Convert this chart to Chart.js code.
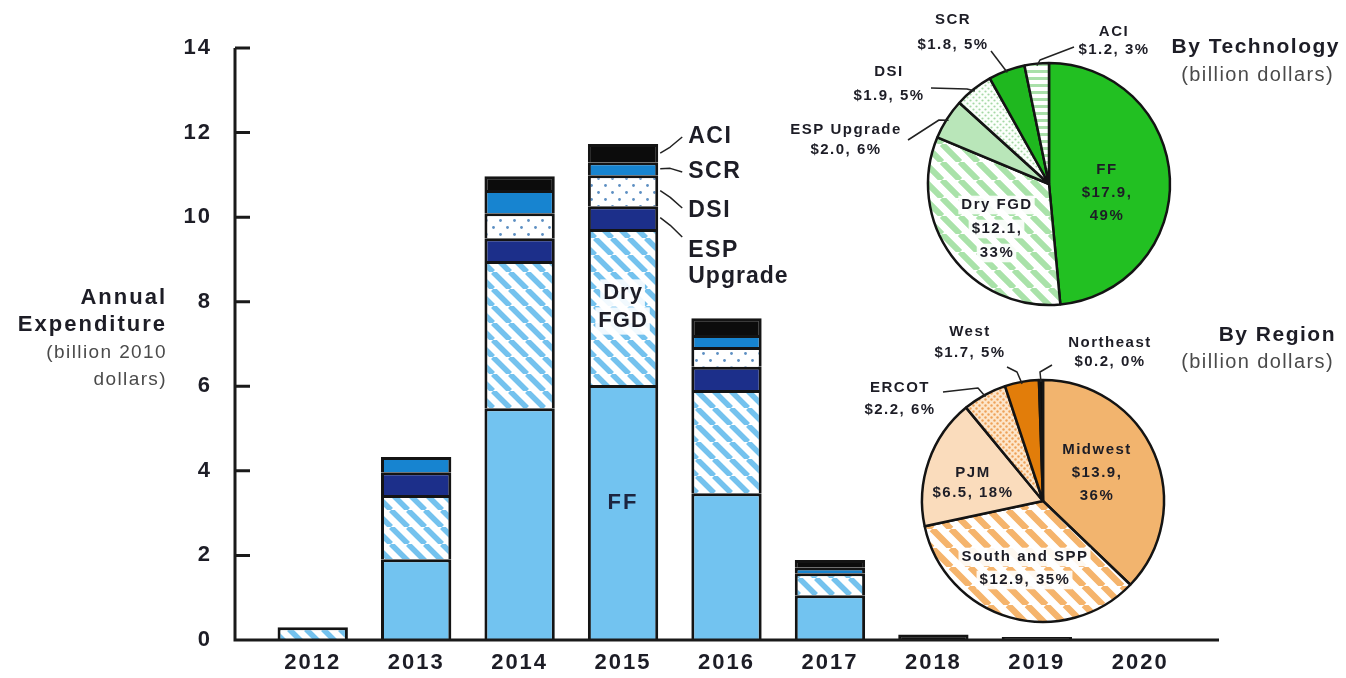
<!DOCTYPE html>
<html>
<head>
<meta charset="utf-8">
<script src="https://cdn.jsdelivr.net/npm/chart.js@4.4.0/dist/chart.umd.min.js"></script>
<style>
  html, body { margin: 0; padding: 0; background: #fff; }
  #wrap { position: relative; width: 1346px; height: 678px; }
  canvas { position: absolute; }
  #bars { left: 0; top: 0; }
  #techPie { left: 780px; top: 0; pointer-events: none; }
  #regionPie { left: 780px; top: 320px; pointer-events: none; }
</style>
</head>
<body>
<div id="wrap">
  <canvas id="bars" width="1346" height="678"></canvas>
  <canvas id="techPie" width="566" height="320"></canvas>
  <canvas id="regionPie" width="566" height="320"></canvas>
</div>
<script>
// annual spending by control technology, billion 2010 dollars
const years = ['2012', '2013', '2014', '2015', '2016', '2017', '2018', '2019', '2020'];
const ffSpend     = [null, 1.91, 5.48, 6.03, 3.47, 1.06, null, null, null];
const dryFgdSpend = [0.30, 1.52, 3.48, 3.69, 2.44, 0.52, null, null, null];
const espSpend    = [null, 0.54, 0.54, 0.54, 0.55, null, null, null, null];
const dsiSpend    = [null, null, 0.59, 0.73, 0.47, null, null, null, null];
const scrSpend    = [null, 0.36, 0.55, 0.31, 0.28, 0.13, null, null, null];
const aciSpend    = [null, null, 0.33, 0.43, 0.40, 0.18, 0.13, 0.07, null];
const yTicks = [0, 2, 4, 6, 8, 10, 12, 14];

// cumulative totals
const techLabels = ['FF', 'Dry FGD', 'ESP Upgrade', 'DSI', 'SCR', 'ACI'];
const techValues = [17.9, 12.1, 2.0, 1.9, 1.8, 1.2];
const techShares = [49, 33, 6, 5, 5, 3];
const regionLabels = ['Midwest', 'South and SPP', 'PJM', 'ERCOT', 'West', 'Northeast'];
const regionValues = [13.9, 12.9, 6.5, 2.2, 1.7, 0.2];
const regionShares = [36, 35, 18, 6, 5, 0];

const FONT = '"Liberation Sans", Arial, Helvetica, sans-serif';
const INK = '#1d1d26';

// ---- fill patterns ----
function makeTile(w, h, bg, draw) {
  const c = document.createElement('canvas');
  c.width = w; c.height = h;
  const g = c.getContext('2d');
  g.fillStyle = bg;
  g.fillRect(0, 0, w, h);
  draw(g);
  return g.createPattern(c, 'repeat');
}
function stripes(color, bg, size, width) {
  return makeTile(size, size, bg, g => {
    g.strokeStyle = color;
    g.lineWidth = width;
    g.beginPath();
    for (let k = -1; k <= 1; k++) {
      g.moveTo(k * size, 0);
      g.lineTo(k * size + size, size);
    }
    g.stroke();
  });
}
function dots(color, bg, size, r) {
  return makeTile(size, size, bg, g => {
    g.fillStyle = color;
    [[size / 4, size / 4], [size * 3 / 4, size * 3 / 4]].forEach(([px, py]) => {
      g.beginPath();
      g.arc(px, py, r, 0, Math.PI * 2);
      g.fill();
    });
  });
}
function hlines(color, bg, size, width) {
  return makeTile(8, size, bg, g => {
    g.fillStyle = color;
    g.fillRect(0, 0, 8, width);
  });
}

// ---- text helpers ----
function putText(ctx, str, x, y, opt) {
  ctx.save();
  ctx.font = `${opt.weight || 'bold'} ${opt.size}px ${FONT}`;
  ctx.letterSpacing = (opt.spacing ?? 1.5) + 'px';
  ctx.textAlign = opt.align || 'center';
  ctx.textBaseline = 'middle';
  if (opt.halo) {
    const w = ctx.measureText(str).width;
    const left = opt.align === 'left' ? x : opt.align === 'right' ? x - w : x - w / 2;
    ctx.fillStyle = 'rgba(255,255,255,0.9)';
    ctx.fillRect(left - 3, y - opt.size * 0.62, w + 5, opt.size * 1.24);
  }
  ctx.fillStyle = opt.color || INK;
  ctx.fillText(str, x, y);
  ctx.restore();
}
function leader(ctx, pts) {
  ctx.save();
  ctx.strokeStyle = '#222';
  ctx.lineWidth = 1.5;
  ctx.lineJoin = 'round';
  ctx.beginPath();
  ctx.moveTo(pts[0][0], pts[0][1]);
  for (let i = 1; i < pts.length; i++) ctx.lineTo(pts[i][0], pts[i][1]);
  ctx.stroke();
  ctx.restore();
}

// ---- stacked bars ----
const barDecor = {
  id: 'barDecor',
  beforeDraw(chart) { chart.ctx.letterSpacing = '2px'; },
  afterDatasetsDraw(chart) {
    const { ctx, chartArea, scales: { y } } = chart;
    const axisX = chartArea.left - 26;
    const y0 = y.getPixelForValue(0);

    ctx.save();
    ctx.strokeStyle = '#1a1a1a';
    ctx.lineWidth = 3;
    ctx.beginPath();
    ctx.moveTo(axisX, y.getPixelForValue(yTicks[yTicks.length - 1]));
    ctx.lineTo(axisX, y0);
    ctx.lineTo(chartArea.right + 27, y0);
    yTicks.forEach(v => {
      const py = y.getPixelForValue(v);
      ctx.moveTo(axisX, py);
      ctx.lineTo(axisX + 15, py);
    });
    ctx.stroke();
    ctx.restore();

    // y axis title
    putText(ctx, 'Annual', 167, 298, { size: 22, align: 'right', spacing: 2 });
    putText(ctx, 'Expenditure', 167, 325, { size: 22, align: 'right', spacing: 2 });
    putText(ctx, '(billion 2010', 167, 353, { size: 19, weight: 'normal', align: 'right', color: '#4a4a4a', spacing: 1.4 });
    putText(ctx, 'dollars)', 167, 380, { size: 19, weight: 'normal', align: 'right', color: '#4a4a4a', spacing: 1.4 });

    // segment names on the 2015 bar
    const col = years.indexOf('2015');
    const seg = i => chart.getDatasetMeta(i).data[col];
    const mid = i => (seg(i).y + seg(i).base) / 2;
    const right = seg(0).x + seg(0).width / 2;
    putText(ctx, 'FF', seg(0).x, mid(0) - 10, { size: 22, spacing: 2, color: '#1c2540' });
    putText(ctx, 'Dry', seg(1).x, mid(1) - 14, { size: 22, spacing: 1, halo: true });
    putText(ctx, 'FGD', seg(1).x, mid(1) + 14, { size: 22, spacing: 1, halo: true });

    const side = [[5, 'ACI', 137, 137], [4, 'SCR', 172, 172], [3, 'DSI', 208, 211], [2, 'ESP', 237, 251]];
    side.forEach(([i, name, endY, textY]) => {
      const sy = mid(i);
      leader(ctx, [[right + 2, sy], [right + 12, (sy + endY) / 2 + (endY > sy ? -2 : 2)], [right + 24, endY]]);
      putText(ctx, name, right + 30, textY, { size: 23, align: 'left', spacing: 1.5 });
    });
    putText(ctx, 'Upgrade', right + 30, 277, { size: 23, align: 'left', spacing: 1 });
  }
};

function segment(label, data, fill) {
  return {
    label, data,
    backgroundColor: fill,
    borderColor: '#141414',
    borderWidth: 3,
    barPercentage: 0.68,
    categoryPercentage: 1
  };
}

const tickFont = { family: FONT, size: 22, weight: 'bold' };

new Chart(document.getElementById('bars'), {
  type: 'bar',
  data: {
    labels: years,
    datasets: [
      segment('FF', ffSpend, '#72c3f0'),
      segment('Dry FGD', dryFgdSpend, stripes('#74c2ee', '#ffffff', 17, 5.5)),
      segment('ESP Upgrade', espSpend, '#1c2f8a'),
      segment('DSI', dsiSpend, dots('#5d8fc2', '#ffffff', 14, 1.4)),
      segment('SCR', scrSpend, '#1784d0'),
      segment('ACI', aciSpend, '#0c0c0c')
    ]
  },
  options: {
    responsive: false,
    animation: false,
    layout: { padding: { left: 0, right: 154, top: 48, bottom: 0 } },
    plugins: { legend: { display: false }, tooltip: { enabled: false } },
    scales: {
      x: {
        stacked: true,
        grid: { display: false, drawTicks: false },
        border: { display: false },
        ticks: { font: tickFont, color: INK, padding: 10 },
        afterFit: s => {
          s.height = 38;
          s.paddingLeft = s.paddingRight = s.paddingTop = s.paddingBottom = 0;
        }
      },
      y: {
        stacked: true,
        min: 0,
        max: 14,
        grid: { display: false, drawTicks: false },
        border: { display: false },
        ticks: { font: tickFont, color: INK, padding: 49 },
        afterBuildTicks: s => { s.ticks = yTicks.map(v => ({ value: v })); },
        afterFit: s => {
          s.width = 261;
          s.paddingLeft = s.paddingRight = s.paddingTop = s.paddingBottom = 0;
        }
      }
    }
  },
  plugins: [barDecor]
});

// ---- pies ----
function pieDecor(spec) {
  return {
    id: 'pieDecor',
    afterDatasetsDraw(chart) {
      const ctx = chart.ctx;
      const arcs = chart.getDatasetMeta(0).data;
      const cx = arcs[0].x, cy = arcs[0].y, r = arcs[0].outerRadius;

      spec.titles.forEach(t => putText(ctx, t.text, t.x, t.y, t.opt));

      spec.inside.forEach(item => {
        item.lines.forEach((line, k) => {
          putText(ctx, line, cx + item.dx, cy + item.dy + k * item.gap, { size: 15, spacing: 1.5, halo: item.halo });
        });
      });

      spec.outside.forEach(item => {
        const a = arcs[item.slice];
        const m = (a.startAngle + a.endAngle) / 2;
        const edge = [cx + Math.cos(m) * (r - 2), cy + Math.sin(m) * (r - 2)];
        const pts = item.path.map(([dx, dy]) => [cx + dx, cy + dy]);
        leader(ctx, [...pts, edge]);
        item.lines.forEach((line, k) => {
          putText(ctx, line, cx + item.dx, cy + item.dy + k * item.gap, { size: 15, spacing: 1.5 });
        });
      });
    }
  };
}

const money = (v, s) => `$${v.toFixed(1)}, ${s}%`;

function pieChart(id, labels, values, fills, padding, decor) {
  return new Chart(document.getElementById(id), {
    type: 'pie',
    data: {
      labels,
      datasets: [{
        data: values,
        backgroundColor: fills,
        borderColor: '#141414',
        borderWidth: 2.5,
        radius: 121
      }]
    },
    options: {
      responsive: false,
      animation: false,
      layout: { padding },
      plugins: { legend: { display: false }, tooltip: { enabled: false } }
    },
    plugins: [decor]
  });
}

const subtitle = { size: 20, weight: 'normal', align: 'right', color: '#4a4a4a', spacing: 1.4 };

pieChart('techPie', techLabels, techValues, [
  '#22c022',
  stripes('#a9e2a9', '#ffffff', 18, 6),
  '#b9e6b9',
  dots('#a5d8a5', '#fbfffb', 6, 1.1),
  '#1fb81f',
  hlines('#a9e0a9', '#ffffff', 7, 3)
], { left: 139, right: 167, top: 54, bottom: 6 }, pieDecor({
  titles: [
    { text: 'By Technology', x: 560, y: 47, opt: { size: 21, align: 'right', spacing: 1.5 } },
    { text: '(billion dollars)', x: 554, y: 75, opt: subtitle }
  ],
  inside: [
    { dx: 58, dy: -14, gap: 23, lines: ['FF', `$${techValues[0].toFixed(1)},`, `${techShares[0]}%`] },
    { dx: -52, dy: 21, gap: 24, halo: true, lines: ['Dry FGD', `$${techValues[1].toFixed(1)},`, `${techShares[1]}%`] }
  ],
  outside: [
    { slice: 4, dx: -96, dy: -164, gap: 25, lines: ['SCR', money(techValues[4], techShares[4])], path: [[-58, -133]] },
    { slice: 5, dx: 65, dy: -152, gap: 18, lines: ['ACI', money(techValues[5], techShares[5])], path: [[25, -137], [-9, -124]] },
    { slice: 3, dx: -160, dy: -112, gap: 24, lines: ['DSI', money(techValues[3], techShares[3])], path: [[-118, -96], [-82, -95]] },
    { slice: 2, dx: -203, dy: -54, gap: 20, lines: ['ESP Upgrade', money(techValues[2], techShares[2])], path: [[-141, -44], [-110, -64]] }
  ]
}));

pieChart('regionPie', regionLabels, regionValues, [
  '#f2b46e',
  stripes('#f5b46c', '#ffffff', 19, 6.5),
  '#fadcbc',
  dots('#eea25a', '#fde5c9', 6, 1.2),
  '#e27d0a',
  '#0c0c0c'
], { left: 133, right: 173, top: 51, bottom: 9 }, pieDecor({
  titles: [
    { text: 'By Region', x: 556, y: 15, opt: { size: 21, align: 'right', spacing: 1.5 } },
    { text: '(billion dollars)', x: 554, y: 42, opt: subtitle }
  ],
  inside: [
    { dx: 54, dy: -51, gap: 23, lines: ['Midwest', `$${regionValues[0].toFixed(1)},`, `${regionShares[0]}%`] },
    { dx: -70, dy: -28, gap: 20, lines: ['PJM', money(regionValues[2], regionShares[2])] },
    { dx: -18, dy: 56, gap: 23, halo: true, lines: ['South and SPP', money(regionValues[1], regionShares[1])] }
  ],
  outside: [
    { slice: 4, dx: -73, dy: -169, gap: 21, lines: ['West', money(regionValues[4], regionShares[4])], path: [[-36, -134], [-26, -129]] },
    { slice: 5, dx: 67, dy: -158, gap: 19, lines: ['Northeast', money(regionValues[5], regionShares[5])], path: [[9, -136], [-3, -129]] },
    { slice: 3, dx: -143, dy: -113, gap: 22, lines: ['ERCOT', money(regionValues[3], regionShares[3])], path: [[-100, -109], [-65, -113]] }
  ]
}));
</script>
</body>
</html>
